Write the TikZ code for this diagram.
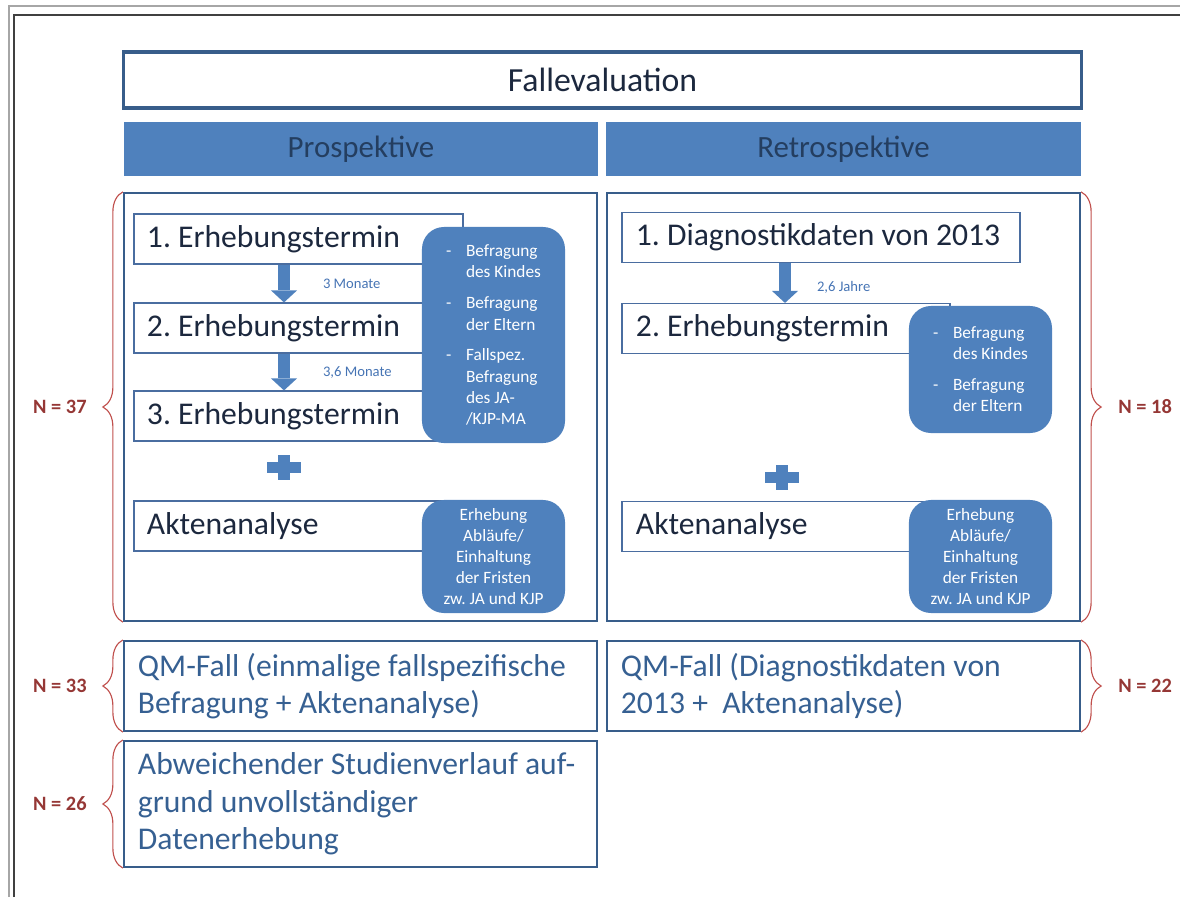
\documentclass[tikz,border=0pt]{standalone}
\usepackage{fontspec}
\setmainfont{Carlito}
\frenchspacing
\usetikzlibrary{arrows.meta,positioning,decorations.pathreplacing}
\definecolor{frameblue}{RGB}{56,93,138}
\definecolor{headblue}{RGB}{79,129,189}
\definecolor{darktext}{RGB}{28,40,62}
\definecolor{headtext}{RGB}{36,62,96}
\definecolor{qmtext}{RGB}{54,96,146}
\definecolor{thinblue}{RGB}{74,109,160}
\definecolor{smallblue}{RGB}{70,116,180}
\definecolor{bracered}{RGB}{192,80,77}
\definecolor{nred}{RGB}{149,55,53}
\definecolor{pagegray}{RGB}{166,166,166}
\definecolor{pagedark}{RGB}{64,64,64}
\newcommand\dashitem{\makebox[14.2pt][l]{-}}
\newcommand\dashcont{\hspace*{14.2pt}}
\tikzset{x=0.025cm,y=-0.025cm}
\tikzset{>={Triangle[width=0.65cm,length=0.3cm,line width=0pt]}}
\tikzset{fontspaces/.style={execute at begin node={\spaceskip=\fontdimen2\font\relax}}}
\tikzset{titlebox/.style={draw=frameblue, line width=2.2pt, minimum width=23.925cm,
    minimum height=1.4cm, font=\fontsize{24}{28}\selectfont, text=darktext}}
\tikzset{headbox/.style={fill=headblue, minimum width=11.85cm, minimum height=1.35cm,
    font=\fontsize{22}{26}\selectfont, text=headtext}}
\tikzset{groupbox/.style={draw=frameblue, line width=1.5pt, minimum width=11.825cm,
    minimum height=10.7cm}}
\tikzset{stepbox/.style={draw=thinblue, line width=0.8pt, fill=white, minimum height=1.25cm,
    inner xsep=0.325cm, align=left, fontspaces, font=\fontsize{22.5}{26}\selectfont, text=darktext}}
\tikzset{infobox/.style={fill=headblue, rounded corners=0.55cm, minimum width=3.575cm,
    text=white, fontspaces, font=\fontsize{12.3}{15}\selectfont}}
\tikzset{qmbox/.style={draw=frameblue, line width=1.5pt, inner xsep=0.35cm, text width=11.125cm,
    align=left, fontspaces, font=\fontsize{22.5}{26.8}\selectfont, text=qmtext}}
\tikzset{flow/.style={->, line width=0.3cm, draw=headblue}}
\tikzset{gap/.style={font=\fontsize{10.4}{12}\selectfont, text=smallblue, inner sep=0pt}}
\tikzset{nlab/.style={font=\fontsize{14.5}{17}\selectfont\bfseries, text=nred, inner sep=0pt}}
\tikzset{nbrace/.style={draw=bracered, line width=0.8pt, decorate,
    decoration={brace, amplitude=0.5cm}}}
\tikzset{plussign/.pic={
    \fill[headblue] (-17,-5.5) rectangle (17,5.5);
    \fill[headblue] (-6,-12.5) rectangle (6,12.5);}}

\begin{document}
\begin{tikzpicture}
    \useasboundingbox (0,0) rectangle (1180,897);
    % page frame
    \draw[pagegray, line width=1.5pt] (9,897) -- (9,6) -- (1180,6);
    \draw[pagedark, line width=1.4pt] (14,897) -- (14,15) -- (1180,15);

    \node(title)[titlebox] at (602.5,80) {Fallevaluation};
    \node(hpro)[headbox] at (361,149) {Prospektive};
    \node(hret)[headbox] at (843.5,149) {Retrospektive};

    \node(gpro)[groupbox] at (360.5,407) {};
    \node(gret)[groupbox] at (843.5,407) {};

    \coordinate (axL) at (284,0);
    \coordinate (axR) at (785,0);

    % prospektive
    \node(e1)[stepbox, text width=7.575cm] at (298.5,239) {1. Erhebungstermin};
    \node(e2)[stepbox, text width=7.575cm] at (298.5,328) {2. Erhebungstermin};
    \node(e3)[stepbox, text width=7.575cm] at (298.5,416) {3. Erhebungstermin};
    \node(akL)[stepbox, text width=7.575cm] at (298.5,526) {Aktenanalyse};

    \draw [flow] (e1.south -| axL) to node [gap, right=0.825cm] {3 Monate} (e2.north -| axL);
    \draw [flow] (e2.south -| axL) to node [gap, right=0.825cm] {3,6 Monate} (e3.north -| axL);
    \pic at (284,467) {plussign};

    \node(infoL1)[infobox, minimum height=5.4cm, align=left] at (493.5,335)
        {\dashitem Befragung\\\dashcont des Kindes\\[7pt]
         \dashitem Befragung\\\dashcont der Eltern\\[7pt]
         \dashitem Fallspez.\\\dashcont Befragung\\\dashcont des JA-\\\dashcont /KJP-MA};
    \node(infoL2)[infobox, minimum height=2.825cm, align=center] at (493.5,556.5)
        {Erhebung\\Abläufe/\\Einhaltung\\der Fristen\\zw. JA und KJP};

    % retrospektive
    \node(d1)[stepbox, inner xsep=0.35cm, text width=9.25cm] at (821,237.5) {\mbox{1. Diagnostikdaten von 2013}};
    \node(r2)[stepbox, inner xsep=0.35cm, text width=7.5cm] at (786,328.5) {2. Erhebungstermin};
    \node(akR)[stepbox, inner xsep=0.35cm, text width=7.5cm] at (786,526.5) {Aktenanalyse};

    \draw [flow] (d1.south -| axR) to node [gap, right=0.65cm, pos=0.6] {2,6 Jahre} (r2.north -| axR);
    \pic at (782,477.5) {plussign};

    \node(infoR1)[infobox, minimum height=3.175cm, align=left] at (980.5,369.5)
        {\dashitem Befragung\\\dashcont des Kindes\\[7pt]
         \dashitem Befragung\\\dashcont der Eltern};
    \node(infoR2)[infobox, minimum height=2.825cm, align=center] at (980.5,556.5)
        {Erhebung\\Abläufe/\\Einhaltung\\der Fristen\\zw. JA und KJP};

    % QM-Fälle
    \node(qmL)[qmbox, minimum height=2.25cm] at (360.5,686)
        {QM-Fall (einmalige fallspezifische\\Befragung + Aktenanalyse)};
    \node(qmR)[qmbox, minimum height=2.25cm] at (843.5,686)
        {QM-Fall (Diagnostikdaten von\\2013 +~ Aktenanalyse)};
    \node(abw)[qmbox, minimum height=3.15cm] at (360.5,804)
        {\mbox{Abweichender Studienverlauf auf-}\\grund unvollständiger\\Datenerhebung};

    % Fallzahlen
    \draw [nbrace] (gpro.south west) -- (gpro.north west);
    \draw [nbrace] (gret.north east) -- (gret.south east);
    \draw [nbrace] (qmL.south west) -- (qmL.north west);
    \draw [nbrace] (qmR.north east) -- (qmR.south east);
    \draw [nbrace] (abw.south west) -- (abw.north west);

    \node(n37)[nlab, left=0.9cm of gpro.west] {N = 37};
    \node(n18)[nlab, right=0.925cm of gret.east] {N = 18};
    \node(n33)[nlab, left=0.9cm of qmL.west] {N = 33};
    \node(n22)[nlab, right=0.925cm of qmR.east] {N = 22};
    \node(n26)[nlab, left=0.9cm of abw.west] {N = 26};
\end{tikzpicture}
\end{document}
